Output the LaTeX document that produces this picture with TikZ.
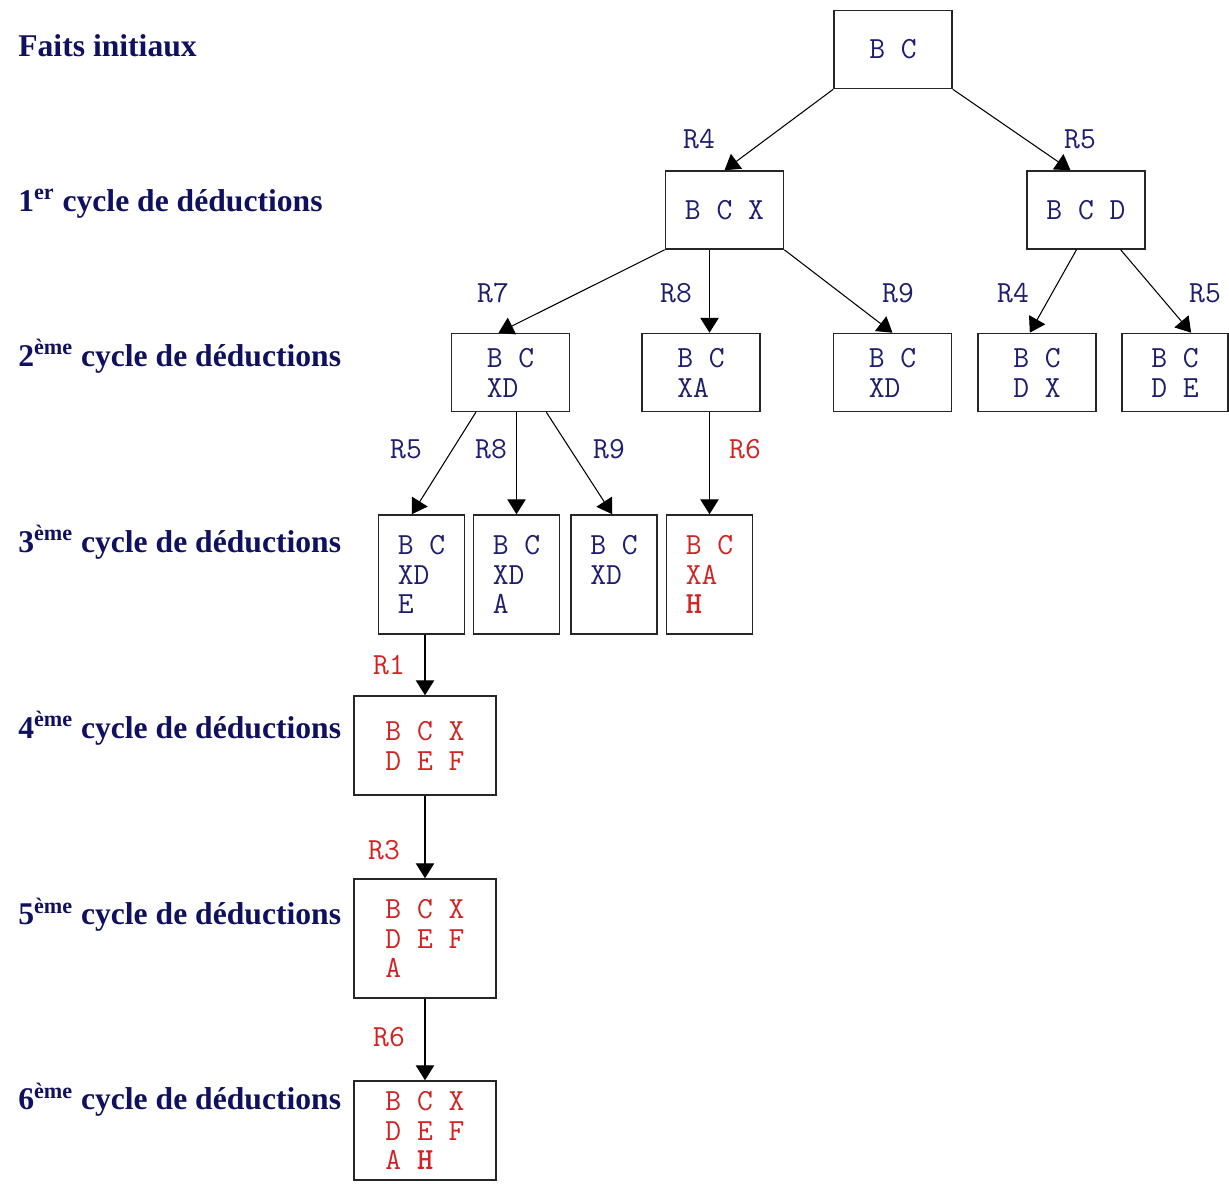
\documentclass[tikz,border=0pt]{standalone}
\usepackage{fontspec}
\setmainfont{Liberation Serif}
\definecolor{factblue}{RGB}{30, 30, 110}
\definecolor{titleblue}{RGB}{16, 16, 96}
\definecolor{newred}{RGB}{210, 35, 35}
\usetikzlibrary{arrows.meta, calc}

\begin{document}
\begin{tikzpicture}[x=0.02cm, y=-0.02cm,
  fb/.style={draw=black!85, line width=0.9pt, inner sep=0pt, align=left, text=factblue, font=\ttfamily\fontsize{17.5}{17}\selectfont},
  fb1/.style={fb, minimum width=2.36cm, minimum height=1.56cm},
  fb3/.style={fb, minimum width=1.72cm, minimum height=2.38cm},
  fb4/.style={fb, minimum width=2.84cm, minimum height=1.98cm},
  fb5/.style={fb4, minimum height=2.38cm},
  rl/.style={text=#1, font=\ttfamily\fontsize{17.5}{17}\selectfont},
  cy/.style={anchor=base west, inner sep=0pt, text=titleblue, font=\bfseries\fontsize{18}{20}\selectfont},
  ar/.style={line width=0.6pt, -{Triangle[length=8.5pt, width=10.5pt]}},
]
  \useasboundingbox (0,0) rectangle (1229,1183);
  % Cycles
  \node[cy] (t0) at (18,56)   {Faits initiaux};
  \node[cy] (t1) at (18,211)  {1\textsuperscript{er} cycle de déductions};
  \node[cy] (t2) at (18,366)  {2\textsuperscript{ème} cycle de déductions};
  \node[cy] (t3) at (18,552)  {3\textsuperscript{ème} cycle de déductions};
  \node[cy] (t4) at (18,738)  {4\textsuperscript{ème} cycle de déductions};
  \node[cy] (t5) at (18,924)  {5\textsuperscript{ème} cycle de déductions};
  \node[cy] (t6) at (18,1109) {6\textsuperscript{ème} cycle de déductions};
  % Fact bases
  \node[fb1] (root) at (893,49.5) {B C};
  \node[fb1] (bcx)  at (724.5,210) {B C X};
  \node[fb1] (bcd)  at (1086,210)  {B C D};
  \node[fb1] (bcxd) at (510.5,372.5) {B C\\XD};
  \node[fb1] (bcxa) at (701,372.5)   {B C\\XA};
  \node[fb1] (xd2)  at (892.5,372.5) {B C\\XD};
  \node[fb1] (dx)   at (1037,372.5)  {B C\\D X};
  \node[fb1, minimum width=2.12cm] (de) at (1175,372.5) {B C\\D E};
  \node[fb3] (e3)  at (421.5,574.5) {B C\\XD\\E};
  \node[fb3] (a3)  at (516.5,574.5) {B C\\XD\\A};
  \node[fb3] (xd3) at (614,574.5)   {B C\\XD\\~};
  \node[fb3, text=newred] (h3) at (709.5,574.5) {B C\\XA\\\textbf{H}};
  \node[fb4, text=newred] (c4) at (425,745.5)  {B C X\\D E F};
  \node[fb5, text=newred] (c5) at (425,938.5)  {B C X\\D E F\\A};
  \node[fb4, text=newred] (c6) at (425,1130.5) {B C X\\D E F\\A \textbf{H}};
  % Rules
  \draw[ar] (root.south west) -- (bcx.north);
  \draw[ar] (root.south east) -- ($(bcd.north west)!.37!(bcd.north east)$);
  \draw[ar] (bcx.south west) -- ($(bcxd.north west)!.4!(bcxd.north east)$);
  \draw[ar] (bcx.south -| h3.north) -- (bcxa.north -| h3.north);
  \draw[ar] (bcx.south east) -- (xd2.north);
  \draw[ar] ($(bcd.south west)!.42!(bcd.south east)$) -- ($(dx.north west)!.44!(dx.north east)$);
  \draw[ar] ($(bcd.south west)!.79!(bcd.south east)$) -- ($(de.north west)!.65!(de.north east)$);
  \draw[ar] ($(bcxd.south west)!.21!(bcxd.south east)$) -- ($(e3.north west)!.39!(e3.north east)$);
  \draw[ar] (bcxd.south -| a3.north) -- (a3.north);
  \draw[ar] ($(bcxd.south west)!.8!(bcxd.south east)$) -- ($(xd3.north west)!.48!(xd3.north east)$);
  \draw[ar] (bcxa.south -| h3.north) -- (h3.north);
  \draw[ar] (e3.south -| c4.north) -- (c4.north);
  \draw[ar] (c4.south) -- (c5.north);
  \draw[ar] (c5.south) -- (c6.north);
  % Rule names
  \node[rl=factblue] (r4a) at (699,139)  {R4};
  \node[rl=factblue] (r5a) at (1080,139) {R5};
  \node[rl=factblue] (r7)  at (493,293)  {R7};
  \node[rl=factblue] (r8a) at (676,293)  {R8};
  \node[rl=factblue] (r9a) at (898,293)  {R9};
  \node[rl=factblue] (r4b) at (1013,293) {R4};
  \node[rl=factblue] (r5b) at (1205,293) {R5};
  \node[rl=factblue] (r5c) at (406,449)  {R5};
  \node[rl=factblue] (r8b) at (491,449)  {R8};
  \node[rl=factblue] (r9b) at (609,449)  {R9};
  \node[rl=newred]   (r6a) at (745,449)  {R6};
  \node[rl=newred]   (r1)  at (389,665)  {R1};
  \node[rl=newred]   (r3)  at (384,850)  {R3};
  \node[rl=newred]   (r6b) at (389,1037) {R6};
\end{tikzpicture}
\end{document}
